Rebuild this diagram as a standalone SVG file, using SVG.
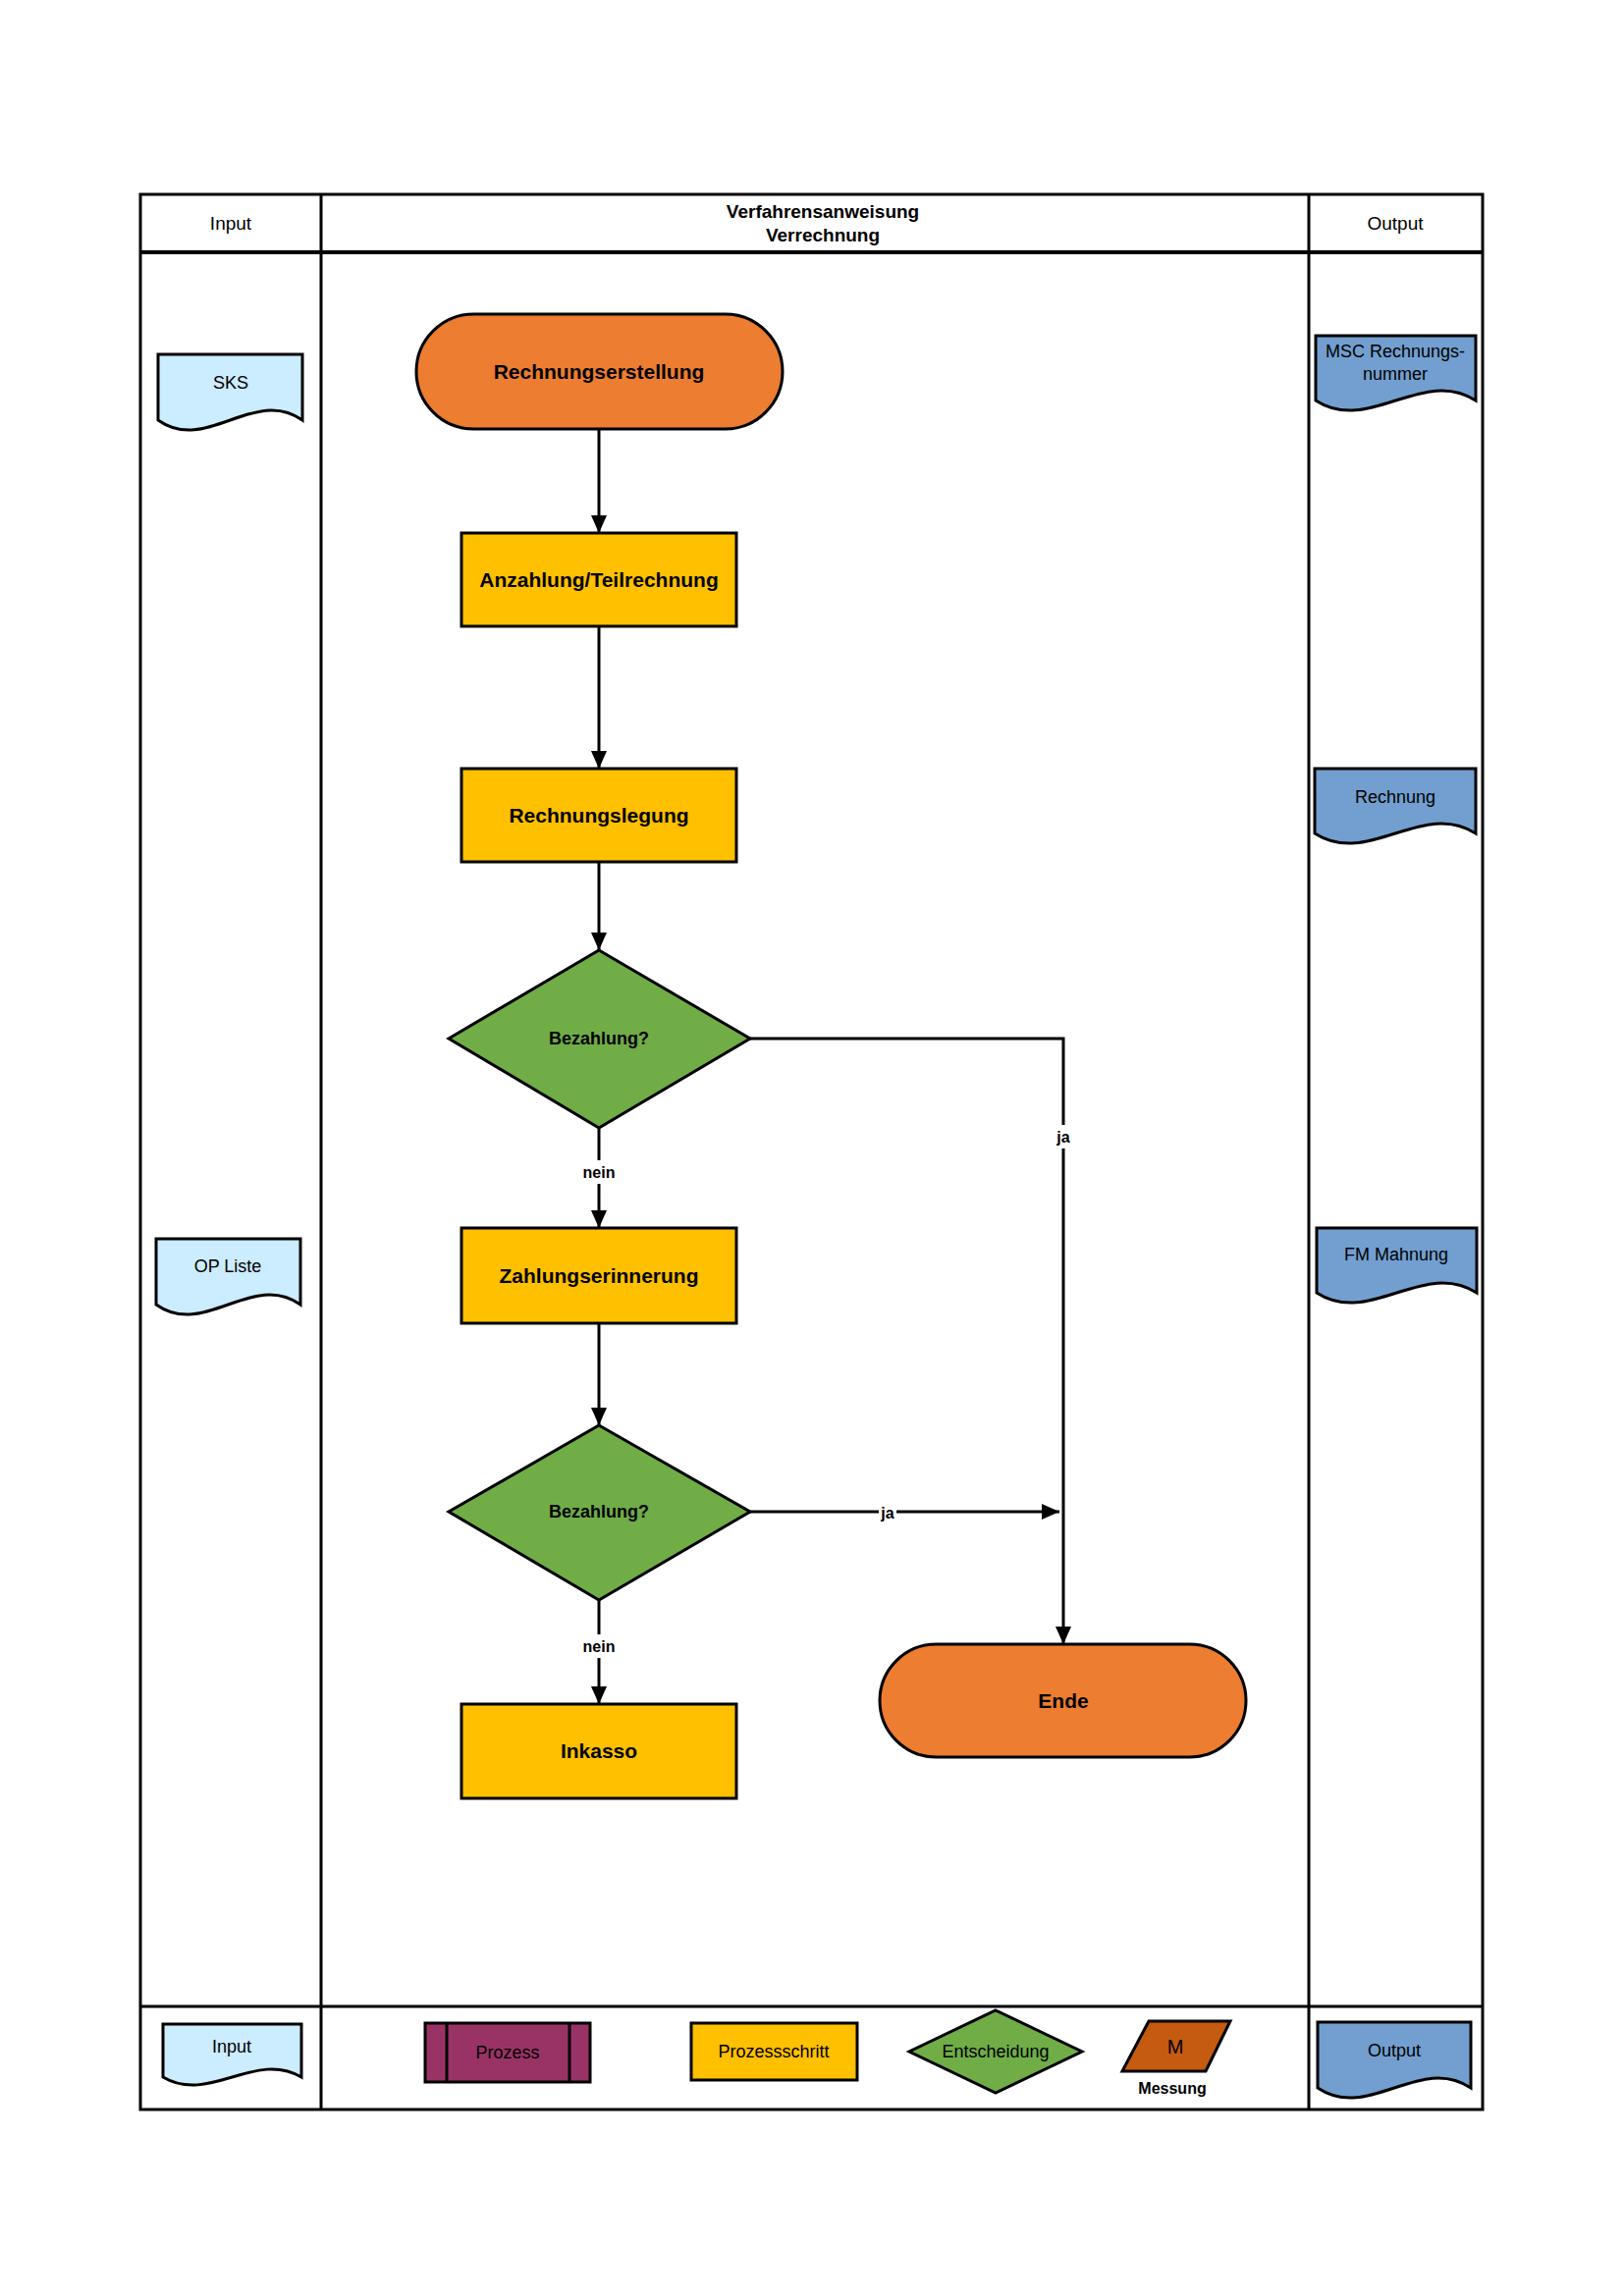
<svg xmlns="http://www.w3.org/2000/svg" width="1654" height="2339" viewBox="0 0 1654 2339">
<style>
text{font-family:"Liberation Sans",Arial,sans-serif;fill:#000;text-anchor:middle;dominant-baseline:central}
.frame{fill:none;stroke:#000;stroke-width:3}
.sh{stroke:#000;stroke-width:3}
.term{fill:#ED7D31}
.proc{fill:#FFC000}
.dec{fill:#70AD47}
.din{fill:#CCECFF}
.dout{fill:#729FCF}
.lbl{font-weight:bold;font-size:21px}
.q{font-weight:bold;font-size:18px}
.hd{font-size:19px}
.doc{font-size:18px}
.leg{font-size:18px}
.conn{fill:none;stroke:#000;stroke-width:3}
.edl{font-weight:bold;font-size:16px}
</style>
<defs>
<marker id="arr" markerUnits="userSpaceOnUse" markerWidth="20" markerHeight="16" refX="18" refY="8" orient="auto">
<path d="M0,0 L18,8 L0,16 Z" fill="#000"/>
</marker>
</defs>
<rect width="1654" height="2339" fill="#fff"/>
<g id="frame">
<rect class="frame" x="143" y="198" width="1367" height="1951"/>
<line class="frame" x1="143" y1="257" x2="1510" y2="257" style="stroke-width:4"/>
<line class="frame" x1="143" y1="2044" x2="1510" y2="2044"/>
<line class="frame" x1="327" y1="198" x2="327" y2="2149"/>
<line class="frame" x1="1333" y1="198" x2="1333" y2="2149"/>
<text class="hd" x="235" y="227">Input</text>
<text class="hd" x="838" y="215" font-weight="bold">Verfahrensanweisung</text>
<text class="hd" x="838" y="239" font-weight="bold">Verrechnung</text>
<text class="hd" x="1421" y="227">Output</text>
</g>
<g id="connectors">
<line class="conn" x1="610" y1="437" x2="610" y2="543" marker-end="url(#arr)"/>
<line class="conn" x1="610" y1="638" x2="610" y2="783" marker-end="url(#arr)"/>
<line class="conn" x1="610" y1="878" x2="610" y2="968" marker-end="url(#arr)"/>
<line class="conn" x1="610" y1="1149" x2="610" y2="1251" marker-end="url(#arr)"/>
<line class="conn" x1="610" y1="1348" x2="610" y2="1452" marker-end="url(#arr)"/>
<line class="conn" x1="610" y1="1630" x2="610" y2="1736" marker-end="url(#arr)"/>
<polyline class="conn" points="764,1058 1083,1058 1083,1675" marker-end="url(#arr)"/>
<line class="conn" x1="764" y1="1540" x2="1079" y2="1540" marker-end="url(#arr)"/>
<rect x="592" y="1182" width="36" height="24" fill="#fff"/>
<text class="edl" x="610" y="1194">nein</text>
<rect x="592" y="1665" width="36" height="24" fill="#fff"/>
<text class="edl" x="610" y="1677">nein</text>
<rect x="1073" y="1146" width="20" height="24" fill="#fff"/>
<text class="edl" x="1083" y="1158">ja</text>
<rect x="895" y="1529" width="18" height="24" fill="#fff"/>
<text class="edl" x="904" y="1541">ja</text>
</g>
<g id="n-start">
<rect class="sh term" x="424" y="320" width="373" height="117" rx="58.5"/>
<text class="lbl" x="610" y="378">Rechnungserstellung</text>
</g>
<g id="n-anzahlung">
<rect class="sh proc" x="470" y="543" width="280" height="95"/>
<text class="lbl" x="610" y="590">Anzahlung/Teilrechnung</text>
</g>
<g id="n-rechnungslegung">
<rect class="sh proc" x="470" y="783" width="280" height="95"/>
<text class="lbl" x="610" y="830">Rechnungslegung</text>
</g>
<g id="n-dec1">
<polygon class="sh dec" points="610,968 764,1058 610,1149 457,1058"/>
<text class="q" x="610" y="1058">Bezahlung?</text>
</g>
<g id="n-zahlungserinnerung">
<rect class="sh proc" x="470" y="1251" width="280" height="97"/>
<text class="lbl" x="610" y="1299">Zahlungserinnerung</text>
</g>
<g id="n-dec2">
<polygon class="sh dec" points="610,1452 764,1540 610,1630 457,1540"/>
<text class="q" x="610" y="1540">Bezahlung?</text>
</g>
<g id="n-inkasso">
<rect class="sh proc" x="470" y="1736" width="280" height="96"/>
<text class="lbl" x="610" y="1783">Inkasso</text>
</g>
<g id="n-ende">
<rect class="sh term" x="896" y="1675" width="373" height="115" rx="57.5"/>
<text class="lbl" x="1083" y="1732">Ende</text>
</g>
<g id="in-sks" transform="translate(161,361)">
<path class="sh din" d="M0,0 H147 V67 C98,32 49,102 0,67 Z"/>
<text class="doc" x="74" y="29">SKS</text>
</g>
<g id="in-opliste" transform="translate(159,1262)">
<path class="sh din" d="M0,0 H147 V67 C98,32 49,102 0,67 Z"/>
<text class="doc" x="73" y="28">OP Liste</text>
</g>
<g id="out-msc" transform="translate(1340,342)">
<path class="sh dout" d="M0,0 H163 V66 C109,31 54,101 0,66 Z"/>
<text class="doc" x="81" y="16">MSC Rechnungs-</text>
<text class="doc" x="81" y="39">nummer</text>
</g>
<g id="out-rechnung" transform="translate(1339,783)">
<path class="sh dout" d="M0,0 H164 V66 C109,31 55,101 0,66 Z"/>
<text class="doc" x="82" y="29">Rechnung</text>
</g>
<g id="out-fm" transform="translate(1341,1251)">
<path class="sh dout" d="M0,0 H163 V66 C109,31 54,101 0,66 Z"/>
<text class="doc" x="81" y="27">FM Mahnung</text>
</g>
<g id="legend-input" transform="translate(166,2062)">
<path class="sh din" d="M0,0 H141 V54 C94,26 47,82 0,54 Z"/>
<text class="leg" x="70" y="23">Input</text>
</g>
<g id="legend-prozess">
<rect class="sh" x="433" y="2061" width="168" height="60" fill="#993366"/>
<line class="sh" x1="455" y1="2061" x2="455" y2="2121"/>
<line class="sh" x1="580" y1="2061" x2="580" y2="2121"/>
<text class="leg" x="517" y="2091">Prozess</text>
</g>
<g id="legend-prozessschritt">
<rect class="sh proc" x="704" y="2061" width="169" height="58"/>
<text class="leg" x="788" y="2090">Prozessschritt</text>
</g>
<g id="legend-entscheidung">
<polygon class="sh dec" points="1014,2048 1102,2090 1014,2132 926,2090"/>
<text class="leg" x="1014" y="2090">Entscheidung</text>
</g>
<g id="legend-messung">
<polygon class="sh" points="1170,2059 1253,2059 1228,2110 1143,2110" fill="#C55A11"/>
<text x="1197" y="2085" font-size="20">M</text>
<text x="1194" y="2127" font-size="16" font-weight="bold">Messung</text>
</g>
<g id="legend-output" transform="translate(1342,2060)">
<path class="sh dout" d="M0,0 H156 V67 C104,32 52,102 0,67 Z"/>
<text class="leg" x="78" y="29">Output</text>
</g>
</svg>
